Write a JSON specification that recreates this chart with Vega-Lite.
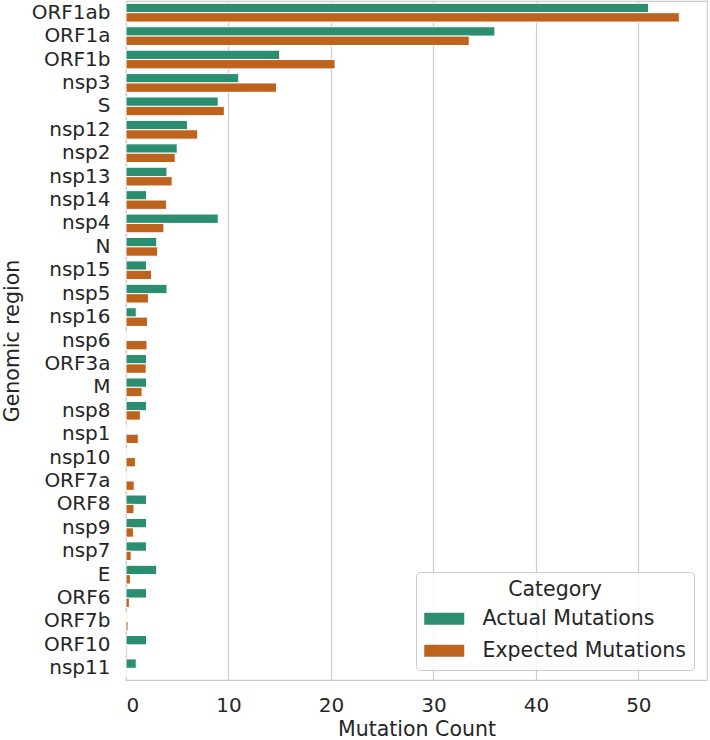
{
  "$schema": "https://vega.github.io/schema/vega-lite/v6.json",
  "width": 581,
  "height": 679,
  "autosize": {"type": "none"},
  "padding": {"left": 126, "top": 1, "right": 3, "bottom": 60},
  "data": {
    "values": [
      {"region": "ORF1ab", "category": "Actual Mutations", "count": 51},
      {"region": "ORF1ab", "category": "Expected Mutations", "count": 54.0},
      {"region": "ORF1a", "category": "Actual Mutations", "count": 36},
      {"region": "ORF1a", "category": "Expected Mutations", "count": 33.5},
      {"region": "ORF1b", "category": "Actual Mutations", "count": 15},
      {"region": "ORF1b", "category": "Expected Mutations", "count": 20.4},
      {"region": "nsp3", "category": "Actual Mutations", "count": 11},
      {"region": "nsp3", "category": "Expected Mutations", "count": 14.7},
      {"region": "S", "category": "Actual Mutations", "count": 9},
      {"region": "S", "category": "Expected Mutations", "count": 9.6},
      {"region": "nsp12", "category": "Actual Mutations", "count": 6},
      {"region": "nsp12", "category": "Expected Mutations", "count": 7.0},
      {"region": "nsp2", "category": "Actual Mutations", "count": 5},
      {"region": "nsp2", "category": "Expected Mutations", "count": 4.8},
      {"region": "nsp13", "category": "Actual Mutations", "count": 4},
      {"region": "nsp13", "category": "Expected Mutations", "count": 4.5},
      {"region": "nsp14", "category": "Actual Mutations", "count": 2},
      {"region": "nsp14", "category": "Expected Mutations", "count": 3.95},
      {"region": "nsp4", "category": "Actual Mutations", "count": 9},
      {"region": "nsp4", "category": "Expected Mutations", "count": 3.7},
      {"region": "N", "category": "Actual Mutations", "count": 3},
      {"region": "N", "category": "Expected Mutations", "count": 3.1},
      {"region": "nsp15", "category": "Actual Mutations", "count": 2},
      {"region": "nsp15", "category": "Expected Mutations", "count": 2.5},
      {"region": "nsp5", "category": "Actual Mutations", "count": 4},
      {"region": "nsp5", "category": "Expected Mutations", "count": 2.2},
      {"region": "nsp16", "category": "Actual Mutations", "count": 1},
      {"region": "nsp16", "category": "Expected Mutations", "count": 2.1},
      {"region": "nsp6", "category": "Actual Mutations", "count": 0},
      {"region": "nsp6", "category": "Expected Mutations", "count": 2.05},
      {"region": "ORF3a", "category": "Actual Mutations", "count": 2},
      {"region": "ORF3a", "category": "Expected Mutations", "count": 1.97},
      {"region": "M", "category": "Actual Mutations", "count": 2},
      {"region": "M", "category": "Expected Mutations", "count": 1.57},
      {"region": "nsp8", "category": "Actual Mutations", "count": 2},
      {"region": "nsp8", "category": "Expected Mutations", "count": 1.4},
      {"region": "nsp1", "category": "Actual Mutations", "count": 0},
      {"region": "nsp1", "category": "Expected Mutations", "count": 1.2},
      {"region": "nsp10", "category": "Actual Mutations", "count": 0},
      {"region": "nsp10", "category": "Expected Mutations", "count": 0.92},
      {"region": "ORF7a", "category": "Actual Mutations", "count": 0},
      {"region": "ORF7a", "category": "Expected Mutations", "count": 0.8},
      {"region": "ORF8", "category": "Actual Mutations", "count": 2},
      {"region": "ORF8", "category": "Expected Mutations", "count": 0.78},
      {"region": "nsp9", "category": "Actual Mutations", "count": 2},
      {"region": "nsp9", "category": "Expected Mutations", "count": 0.72},
      {"region": "nsp7", "category": "Actual Mutations", "count": 2},
      {"region": "nsp7", "category": "Expected Mutations", "count": 0.5},
      {"region": "E", "category": "Actual Mutations", "count": 3},
      {"region": "E", "category": "Expected Mutations", "count": 0.43},
      {"region": "ORF6", "category": "Actual Mutations", "count": 2},
      {"region": "ORF6", "category": "Expected Mutations", "count": 0.33},
      {"region": "ORF7b", "category": "Actual Mutations", "count": 0},
      {"region": "ORF7b", "category": "Expected Mutations", "count": 0.2},
      {"region": "ORF10", "category": "Actual Mutations", "count": 2},
      {"region": "ORF10", "category": "Expected Mutations", "count": 0.1},
      {"region": "nsp11", "category": "Actual Mutations", "count": 1},
      {"region": "nsp11", "category": "Expected Mutations", "count": 0}
    ]
  },
  "mark": {"type": "bar", "stroke": "white", "strokeWidth": 1},
  "encoding": {
    "y": {
      "field": "region",
      "type": "nominal",
      "sort": null,
      "title": "Genomic region",
      "scale": {"paddingInner": 0.2, "paddingOuter": 0.1},
      "axis": {"labelPadding": 16, "labelFontSize": 20, "titleX": -104, "titleBaseline": "bottom"}
    },
    "yOffset": {
      "field": "category",
      "type": "nominal",
      "scale": {"paddingInner": 0, "paddingOuter": 0}
    },
    "x": {
      "field": "count",
      "type": "quantitative",
      "title": "Mutation Count",
      "scale": {"domain": [0, 56.7], "nice": false},
      "axis": {"values": [0, 10, 20, 30, 40, 50], "grid": true, "labelFontSize": 20, "labelPadding": 15, "titlePadding": 4}
    },
    "color": {
      "field": "category",
      "type": "nominal",
      "title": "Category",
      "scale": {"domain": ["Actual Mutations", "Expected Mutations"], "range": ["#2b8e70", "#be631d"]},
      "legend": {
        "orient": "none",
        "legendX": 290,
        "legendY": 571,
        "symbolType": "M-2,-0.6H2V0.6H-2Z",
        "symbolSize": 400,
        "symbolOffset": 10,
        "symbolStrokeWidth": 0,
        "labelOffset": 28,
        "rowPadding": 11,
        "padding": 8,
        "titleAnchor": "middle",
        "titlePadding": 8,
        "strokeColor": "#cccccc",
        "fillColor": "rgba(255,255,255,0.8)",
        "cornerRadius": 4
      }
    }
  },
  "config": {
    "font": "DejaVu Sans",
    "view": {"stroke": "#cccccc", "strokeWidth": 1.2},
    "axis": {
      "domain": false,
      "ticks": false,
      "grid": false,
      "gridColor": "#cccccc",
      "gridWidth": 1.2,
      "labelFont": "DejaVu Sans",
      "labelColor": "#262626",
      "titleFont": "DejaVu Sans",
      "titleFontSize": 20.5,
      "titleFontWeight": "normal",
      "titleColor": "#262626"
    },
    "legend": {
      "labelFont": "DejaVu Sans",
      "labelFontSize": 20.5,
      "labelColor": "#262626",
      "titleFont": "DejaVu Sans",
      "titleFontSize": 20.5,
      "titleFontWeight": "normal",
      "titleColor": "#262626",
      "labelLimit": 400
    }
  }
}
